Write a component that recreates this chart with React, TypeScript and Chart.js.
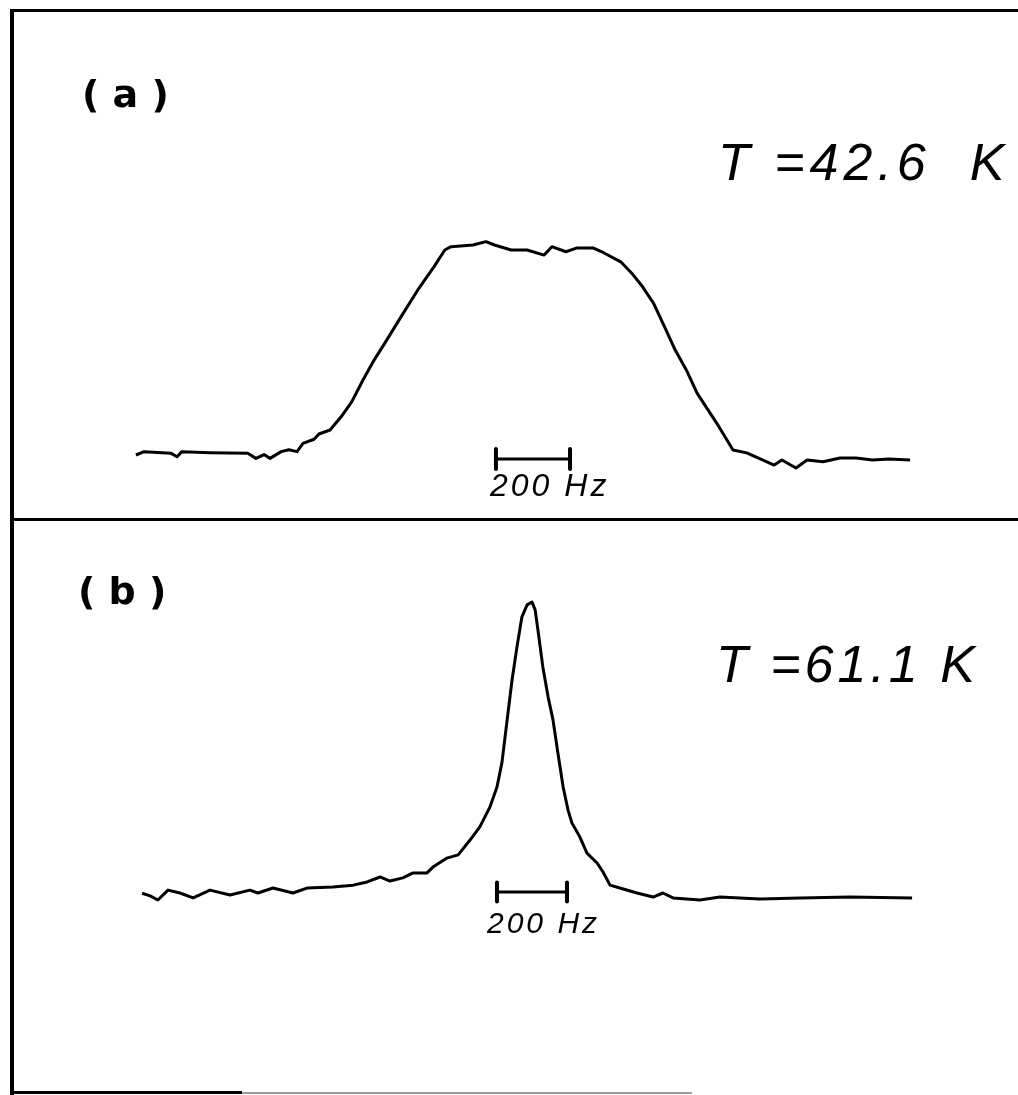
import React, { useEffect, useRef } from "react";
import { Chart, registerables } from "chart.js";

Chart.register(...registerables);

// Panel (a): T = 42.6 K — frequency offset (Hz) and normalised signal
const freqA = [
  -1072, -1050, -977, -961, -948, -872, -770, -748, -726, -710, -680, -659, -637, -621, -591, -578,
  -548, -518, -489, -459, -429, -400, -356, -311, -267, -238, -221, -162, -127, -104, -59, -16, 30,
  51, 89, 119, 162, 192, 237, 266, 296, 325, 355, 384, 414, 443, 473, 502, 540, 577, 621, 651, 672,
  710, 740, 783, 829, 872, 917, 961, 1018,
];
const intensityA = [
  0.0, 0.016, 0.008, -0.008, 0.016, 0.011, 0.008, -0.016, 0.002, -0.016, 0.016, 0.025, 0.016, 0.055,
  0.075, 0.1, 0.119, 0.182, 0.254, 0.357, 0.452, 0.533, 0.659, 0.786, 0.897, 0.976, 0.992, 1.0,
  1.016, 1.0, 0.976, 0.976, 0.952, 0.992, 0.968, 0.986, 0.986, 0.962, 0.92, 0.867, 0.801, 0.724,
  0.611, 0.5, 0.405, 0.295, 0.214, 0.135, 0.024, 0.01, -0.024, -0.048, -0.024, -0.062, -0.024,
  -0.032, -0.014, -0.014, -0.024, -0.019, -0.024,
];

// Panel (b): T = 61.1 K
const freqB = [
  -1114, -1091, -1069, -1040, -1006, -968, -920, -863, -806, -783, -740, -683, -643, -569, -511,
  -471, -434, -406, -369, -340, -300, -283, -243, -211, -177, -149, -120, -100, -86, -71, -57, -43,
  -29, -14, 0, 9, 17, 31, 46, 60, 74, 89, 103, 114, 137, 157, 186, 203, 223, 251, 300, 346, 374, 403,
  480, 537, 651, 766, 909, 1086,
];
const intensityB = [
  -0.001, -0.01, -0.024, 0.01, 0.0, -0.017, 0.01, -0.007, 0.01, 0.0, 0.017, 0.0, 0.017, 0.021, 0.027,
  0.038, 0.055, 0.041, 0.052, 0.069, 0.069, 0.089, 0.12, 0.131, 0.182, 0.227, 0.296, 0.364, 0.447,
  0.595, 0.732, 0.845, 0.948, 0.99, 1.0, 0.973, 0.904, 0.777, 0.674, 0.595, 0.481, 0.364, 0.285,
  0.241, 0.192, 0.137, 0.103, 0.072, 0.027, 0.017, 0.0, -0.014, 0.0, -0.017, -0.024, -0.014, -0.021,
  -0.017, -0.014, -0.017,
];

// Scale bar: 200 Hz
const scaleBarHz = [-100, 100];
const panelLabels = ["( a )", "( b )"];
const temperatureLabels = ["T =42.6  K", "T =61.1 K"];
const scaleBarLabel = "200 Hz";

type PanelProps = {
  top: number;
  height: number;
  freq: number[];
  intensity: number[];
  xMin: number;
  xMax: number;
  yMin: number;
  yMax: number;
  barLevel: number;
  barTick: number;
};

function Panel(p: PanelProps) {
  const ref = useRef<HTMLCanvasElement | null>(null);
  useEffect(() => {
    if (!ref.current) return;
    const curve = p.freq.map((x, i) => ({ x, y: p.intensity[i] }));
    const bar = scaleBarHz.map((x) => ({ x, y: p.barLevel }));
    const tickL = [
      { x: scaleBarHz[0], y: p.barLevel + p.barTick },
      { x: scaleBarHz[0], y: p.barLevel - p.barTick },
    ];
    const tickR = [
      { x: scaleBarHz[1], y: p.barLevel + p.barTick },
      { x: scaleBarHz[1], y: p.barLevel - p.barTick },
    ];
    const ds = (data: { x: number; y: number }[], w: number) => ({
      data,
      borderColor: "#000",
      borderWidth: w,
      pointRadius: 0,
      tension: 0,
      fill: false,
      borderJoinStyle: "round" as const,
      borderCapStyle: "butt" as const,
    });
    const chart = new Chart(ref.current, {
      type: "line",
      data: {
        datasets: [ds(curve, 3), ds(bar, 3), ds(tickL, 4), ds(tickR, 4)],
      },
      options: {
        animation: false,
        responsive: false,
        events: [],
        layout: { padding: 0 },
        plugins: { legend: { display: false }, tooltip: { enabled: false } },
        scales: {
          x: { type: "linear", min: p.xMin, max: p.xMax, display: false },
          y: { type: "linear", min: p.yMin, max: p.yMax, display: false },
        },
      },
    });
    return () => chart.destroy();
  }, []);
  return (
    <canvas
      ref={ref}
      width={1018}
      height={p.height}
      style={{ position: "absolute", left: 0, top: p.top, width: 1018, height: p.height }}
    />
  );
}

const line = (left: number, top: number, width: number, height: number, color = "#000") => (
  <div style={{ position: "absolute", left, top, width, height, background: color }} />
);

const txt = (
  s: string,
  left: number,
  top: number,
  size: number,
  opts: React.CSSProperties = {}
) => (
  <div
    style={{
      position: "absolute",
      left,
      top,
      fontSize: size,
      lineHeight: 1,
      whiteSpace: "pre",
      color: "#000",
      fontFamily: "'Liberation Sans', sans-serif",
      fontStyle: "italic",
      ...opts,
    }}
  >
    {s}
  </div>
);

export default function App() {
  return (
    <div
      style={{
        position: "absolute",
        left: 0,
        top: 0,
        width: 1018,
        height: 1095,
        background: "#fff",
        overflow: "hidden",
      }}
    >
      <Panel
        top={0}
        height={520}
        freq={freqA}
        intensity={intensityA}
        xMin={-1439}
        xMax={1309.5}
        yMin={-0.3095}
        yMax={2.1667}
        barLevel={-0.019}
        barTick={0.048}
      />
      <Panel
        top={520}
        height={575}
        freq={freqB}
        intensity={intensityB}
        xMin={-1520}
        xMax={1388.6}
        yMin={-0.6942}
        yMax={1.2818}
        barLevel={0.0034}
        barTick={0.033}
      />
      {line(10, 9, 1008, 3)}
      {line(10, 9, 4, 1086)}
      {line(10, 518, 1008, 3)}
      {line(10, 1091, 232, 3)}
      {line(242, 1092, 450, 2, "#9a9a9a")}
      {txt(panelLabels[0], 82, 75, 38, {
        fontFamily: "'DejaVu Sans', sans-serif",
        fontStyle: "normal",
        fontWeight: "bold",
        letterSpacing: 0,
      })}
      {txt(panelLabels[1], 78, 572, 38, {
        fontFamily: "'DejaVu Sans', sans-serif",
        fontStyle: "normal",
        fontWeight: "bold",
        letterSpacing: 0,
      })}
      {txt(temperatureLabels[0], 718, 136, 52, { letterSpacing: 5 })}
      {txt(temperatureLabels[1], 716, 638, 52, { letterSpacing: 4 })}
      {txt(scaleBarLabel, 490, 469, 32, { letterSpacing: 3 })}
      {txt(scaleBarLabel, 487, 908, 30, { letterSpacing: 3 })}
    </div>
  );
}
